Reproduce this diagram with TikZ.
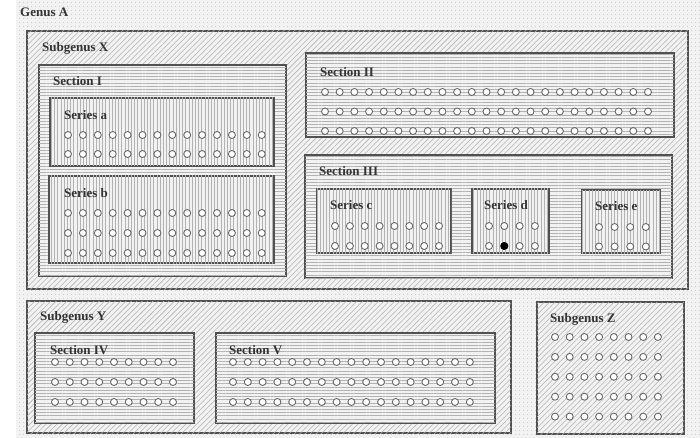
\documentclass[tikz,border=0pt]{standalone}
\usepackage{fontspec}
\setmainfont{Liberation Serif}
\usetikzlibrary{patterns.meta}
\definecolor{inkgray}{RGB}{80,80,80}
\definecolor{hatchgray}{RGB}{178,178,178}
\definecolor{basegray}{RGB}{242,242,242}
\definecolor{seedgray}{RGB}{105,105,105}
\newcommand{\LabelFont}{\fontsize{13}{15}\selectfont\bfseries}
\tikzset{
  genusbg/.style={fill=basegray, postaction={pattern={Dots[distance=4pt, radius=0.5pt]}, pattern color=hatchgray}},
  subgenus/.style={draw=inkgray, line width=1.1pt, fill=basegray,
    postaction={pattern={Lines[angle=45, distance=3.8pt, line width=0.55pt]}, pattern color=hatchgray}},
  section/.style={draw=inkgray, line width=1.1pt, fill=basegray,
    postaction={pattern={Lines[angle=0, distance=3.2pt, line width=0.4pt]}, pattern color=hatchgray}},
  series/.style={draw=inkgray, line width=1.1pt, fill=basegray,
    postaction={pattern={Lines[angle=90, distance=3.2pt, line width=0.4pt]}, pattern color=hatchgray}},
  taxon/.style={font=\LabelFont, text=black!80, anchor=west, inner sep=0pt},
  seed/.style={circle, draw=seedgray, fill=white, line width=0.9pt, minimum size=7pt, inner sep=0pt}
}

\begin{document}
\begin{tikzpicture}[x=1pt, y=-1pt]
  \useasboundingbox (0,0) rectangle (700,438);
  % genus background
  \path[genusbg] (16,0) rectangle (700,438);
  \node[taxon] (genA) at (20,12) {Genus A};

  % subgenus X
  \draw[subgenus] (27,31) rectangle (688,289);
  \node[taxon] (subX) at (42,48) {Subgenus X};
  \draw[section] (39,65) rectangle (286,276);
  \node[taxon] (secI) at (53,81) {Section I};
  \draw[series] (50,98) rectangle (274,166);
  \node[taxon] (serA) at (64,115) {Series a};
  \foreach \i in {0,...,13} \foreach \j in {0,1}
    \node[seed] (a-\i-\j) at ({68+\i*14.9},{135+\j*19}) {};
  \draw[series] (49,176) rectangle (274,263);
  \node[taxon] (serB) at (64,193) {Series b};
  \foreach \i in {0,...,13} \foreach \j in {0,1,2}
    \node[seed] (b-\i-\j) at ({68+\i*14.9},{213+\j*20}) {};

  \draw[section] (306,53) rectangle (674,137);
  \node[taxon] (secII) at (320,72) {Section II};
  \foreach \i in {0,...,22} \foreach \j in {0,1,2}
    \node[seed] (s2-\i-\j) at ({325+\i*14.68},{92+\j*19.5}) {};

  \draw[section] (305,155) rectangle (672,278);
  \node[taxon] (secIII) at (319,171) {Section III};
  \draw[series] (317,189) rectangle (451,253);
  \node[taxon] (serC) at (330,205) {Series c};
  \foreach \i in {0,...,7} \foreach \j in {0,1}
    \node[seed] (c-\i-\j) at ({335+\i*14.86},{226+\j*20}) {};
  \draw[series] (472,189) rectangle (549,253);
  \node[taxon] (serD) at (484,205) {Series d};
  \foreach \i in {0,...,3} \foreach \j in {0,1}
    \node[seed] (d-\i-\j) at ({489+\i*15.3},{226+\j*20}) {};
  \node[seed, fill=black, draw=black] (dblack) at (d-1-1) {};
  \draw[series] (582,190) rectangle (660,253);
  \node[taxon] (serE) at (595,206) {Series e};
  \foreach \i in {0,...,3} \foreach \j in {0,1}
    \node[seed] (e-\i-\j) at ({599+\i*15.6},{227+\j*19.5}) {};

  % subgenus Y
  \draw[subgenus] (27,301) rectangle (511,433);
  \node[taxon] (subY) at (40,317) {Subgenus Y};
  \draw[section] (35,333) rectangle (194,423);
  \node[taxon] (secIV) at (50,350) {Section IV};
  \foreach \i in {0,...,8} \foreach \j in {0,1,2}
    \node[seed] (s4-\i-\j) at ({55+\i*14.75},{362+\j*20}) {};
  \draw[section] (216,333) rectangle (495,423);
  \node[taxon] (secV) at (229,350) {Section V};
  \foreach \i in {0,...,16} \foreach \j in {0,1,2}
    \node[seed] (s5-\i-\j) at ({233+\i*14.8},{362+\j*20}) {};

  % subgenus Z
  \draw[subgenus] (537,302) rectangle (684,434);
  \node[taxon] (subZ) at (550,319) {Subgenus Z};
  \foreach \i in {0,...,7} \foreach \j in {0,...,4}
    \node[seed] (z-\i-\j) at ({555+\i*14.7},{337+\j*19.9}) {};
\end{tikzpicture}
\end{document}
